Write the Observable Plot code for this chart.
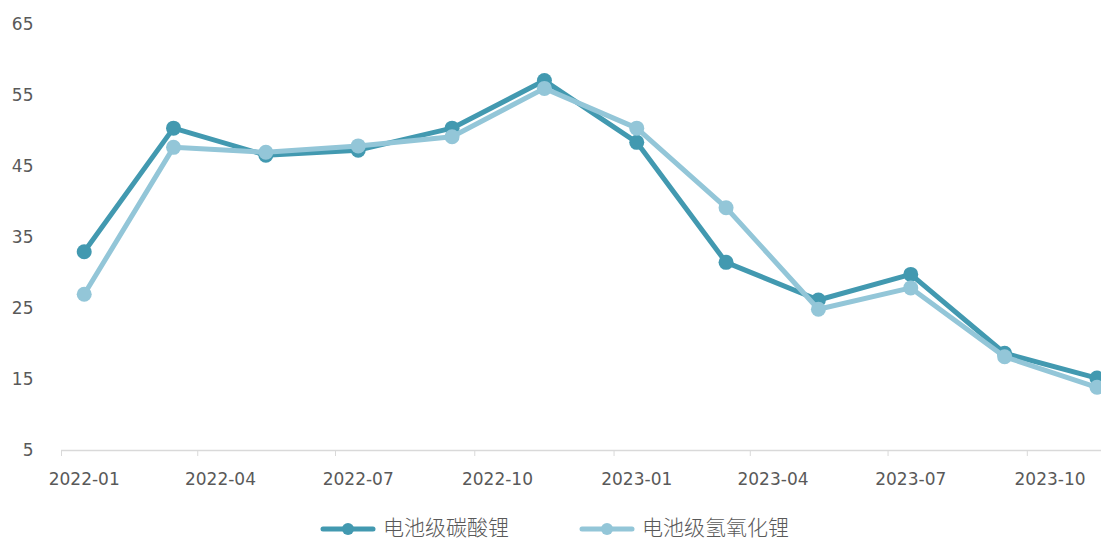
<!DOCTYPE html>
<html>
<head>
<meta charset="utf-8">
<script src="https://cdn.jsdelivr.net/npm/d3@7"></script>
<script src="https://cdn.jsdelivr.net/npm/@observablehq/plot@0.6"></script>
<style>
  html, body { margin: 0; padding: 0; background: #fff; overflow: hidden; }
  #chart { position: absolute; left: 0; top: 0; }
  #legend { position: absolute; left: 320px; top: 513px; height: 26px; display: flex; align-items: center;
    font-family: "Noto Sans CJK SC", "Noto Sans", sans-serif; font-size: 21px; line-height: 26px; color: #595959; font-weight: 300; }
  .item { display: flex; align-items: center; }
  .item svg { margin-right: 7px; margin-top: 6px; }
</style>
</head>
<body>
<div id="chart"></div>
<div id="legend"></div>
<script>
// ---- data ----
const months = ["2022-01","2022-03","2022-05","2022-07","2022-09","2022-11",
                "2023-01","2023-03","2023-05","2023-07","2023-09","2023-11"];
const carbonate = [33.0, 50.4, 46.6, 47.3, 50.4, 57.1, 48.4, 31.5, 26.2, 29.8, 18.7, 15.2];
const hydroxide = [27.0, 47.7, 47.0, 47.9, 49.2, 56.0, 50.4, 39.2, 24.9, 27.9, 18.2, 13.9];
const seriesNames = ["电池级碳酸锂", "电池级氢氧化锂"];
const seriesColors = ["#4299b0", "#93c6d8"];
const xTickLabels = ["2022-01","2022-04","2022-07","2022-10","2023-01","2023-04","2023-07","2023-10"];
const yTicks = [5, 15, 25, 35, 45, 55, 65];

// ---- build ----
const parseMonth = d3.utcParse("%Y-%m");
const midMonth = s => { const d = parseMonth(s); return new Date(d.getTime() + 15 * 864e5); };
const rows = [];
months.forEach((m, i) => {
  rows.push({date: midMonth(m), value: carbonate[i], series: seriesNames[0]});
});
months.forEach((m, i) => {
  rows.push({date: midMonth(m), value: hydroxide[i], series: seriesNames[1]});
});
const tickStarts = xTickLabels.map(parseMonth);
const labelDates = xTickLabels.map(midMonth);

const fontFam = "'DejaVu Sans', sans-serif";
const chart = Plot.plot({
  width: 1101,
  height: 500,
  marginLeft: 61,
  marginRight: 0,
  marginTop: 24,
  marginBottom: 50,
  style: {fontFamily: fontFam, fontSize: "17px", color: "#595959", background: "#fff"},
  x: {type: "utc", domain: [parseMonth("2022-01"), new Date(Date.UTC(2023, 10, 19))], label: null},
  y: {domain: [5, 65], label: null},
  color: {domain: seriesNames, range: seriesColors},
  marks: [
    Plot.ruleY([5], {stroke: "#d9d9d9", strokeWidth: 1.5}),
    Plot.axisX({ticks: tickStarts, tickFormat: () => "", tickSize: 6, stroke: "#d9d9d9", strokeOpacity: 1, label: null}),
    Plot.axisX({ticks: labelDates, tickFormat: d => d3.utcFormat("%Y-%m")(d), tickSize: 0, tickPadding: 22, fill: "#595959", fontSize: 17, label: null}),
    Plot.axisY({ticks: yTicks, tickSize: 0, tickPadding: 28, fill: "#595959", fontSize: 17, label: null}),
    Plot.line(rows.filter(r => r.series === seriesNames[0]), {x: "date", y: "value", stroke: seriesColors[0], strokeWidth: 5, strokeLinejoin: "round"}),
    Plot.dot(rows.filter(r => r.series === seriesNames[0]), {x: "date", y: "value", r: 7.5, fill: seriesColors[0]}),
    Plot.line(rows.filter(r => r.series === seriesNames[1]), {x: "date", y: "value", stroke: seriesColors[1], strokeWidth: 5, strokeLinejoin: "round"}),
    Plot.dot(rows.filter(r => r.series === seriesNames[1]), {x: "date", y: "value", r: 7.5, fill: seriesColors[1]})
  ]
});
document.getElementById("chart").appendChild(chart);

const legend = document.getElementById("legend");
seriesNames.forEach((name, i) => {
  const item = document.createElement("div");
  item.className = "item";
  if (i > 0) item.style.marginLeft = "70px";
  item.innerHTML = `<svg width="56" height="14"><line x1="3" y1="7" x2="53" y2="7" stroke="${seriesColors[i]}" stroke-width="5" stroke-linecap="round"/><circle cx="28" cy="7" r="6" fill="${seriesColors[i]}"/></svg><span>${name}</span>`;
  legend.appendChild(item);
});
</script>
</body>
</html>
